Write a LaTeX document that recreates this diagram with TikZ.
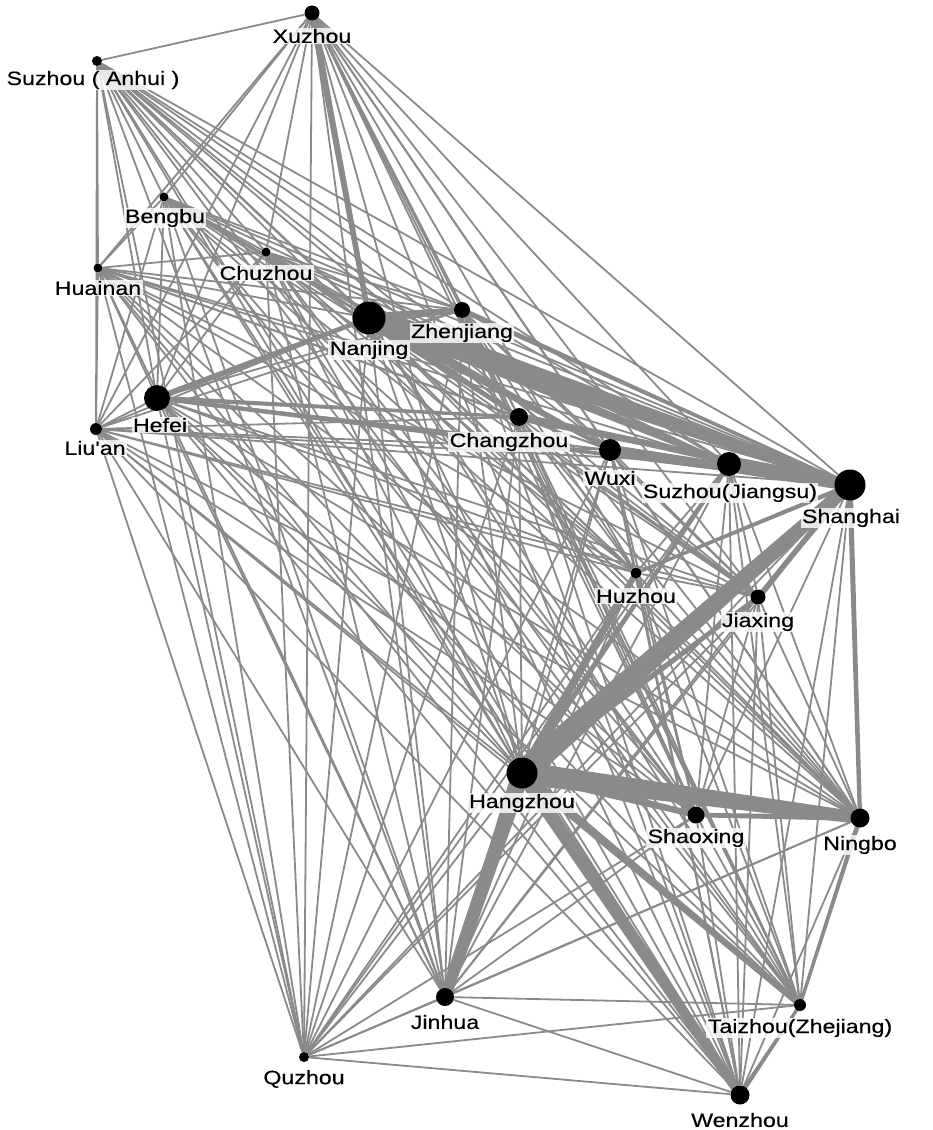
\documentclass[tikz,border=0pt]{standalone}
\usepackage{fontspec}
\newfontfamily\labfont{Liberation Sans}[FakeStretch=1.2,FakeBold=0.4]
\usetikzlibrary{calc}
\pgfdeclarelayer{edgelayer}
\pgfsetlayers{edgelayer,main}
\definecolor{edgegray}{RGB}{138,138,138}
\tikzset{
 city/.style={circle,fill=black,inner sep=0pt,minimum size=#1},
 lbl/.style={fill=white,fill opacity=0.8,text opacity=1,inner sep=1pt,font=\labfont\fontsize{14.5pt}{16pt}\selectfont},
 edge/.style={draw=edgegray,line width=1.35pt},
 band/.style={fill=edgegray}
}
\newcommand\taper[4]{\fill[band] ($(#1)!#3!90:(#2)$) -- ($(#2)!#4!-90:(#1)$) -- ($(#2)!#4!90:(#1)$) -- ($(#1)!#3!-90:(#2)$) -- cycle;}
\def\citylist{xuz,sza,ben,chu,hua,zhe,nan,hef,liu,cha,wux,szj,sha,huz,jia,han,sho,nin,jin,tai,quz,wen}
\begin{document}
\begin{tikzpicture}[x=0.75pt,y=-0.75pt]
\path[use as bounding box] (0,0) rectangle (932,1130);
% cities
\node[city=11.25pt] (xuz) at (312,13) {};
\node[city=7.5pt]   (sza) at (97,61) {};
\node[city=6.75pt]  (ben) at (164,197) {};
\node[city=6.75pt]  (chu) at (266,252) {};
\node[city=6.75pt]  (hua) at (98,268) {};
\node[city=12pt]    (zhe) at (462,310) {};
\node[city=24.75pt] (nan) at (369,318) {};
\node[city=19.5pt]  (hef) at (157,398) {};
\node[city=9pt]     (liu) at (96,429) {};
\node[city=13.5pt]  (cha) at (519,417) {};
\node[city=16.5pt]  (wux) at (610,450) {};
\node[city=18pt]    (szj) at (729,464) {};
\node[city=23.25pt] (sha) at (850,485) {};
\node[city=8.25pt]  (huz) at (636,573) {};
\node[city=11.25pt] (jia) at (758,597) {};
\node[city=23.25pt] (han) at (522,773) {};
\node[city=12.75pt] (sho) at (696,815) {};
\node[city=14.25pt] (nin) at (860,818) {};
\node[city=13.5pt]  (jin) at (445,997) {};
\node[city=9pt]     (tai) at (800,1005) {};
\node[city=7.5pt]   (quz) at (304,1057) {};
\node[city=14.25pt] (wen) at (740,1095) {};
% connectors
\begin{pgfonlayer}{edgelayer}
\foreach \a [count=\i] in \citylist {
  \foreach \b [count=\j] in \citylist {
    \ifnum\j>\i \draw[edge] (\a) -- (\b); \fi
  }
}
\taper{nan}{sha}{9pt}{3pt}
\taper{nan}{szj}{5pt}{2pt}
\taper{nan}{wux}{4pt}{1.5pt}
\taper{nan}{cha}{3pt}{1.5pt}
\taper{nan}{zhe}{3.5pt}{2.2pt}
\taper{szj}{sha}{6pt}{4.5pt}
\taper{wux}{sha}{4pt}{2.2pt}
\taper{cha}{sha}{3pt}{1.5pt}
\taper{zhe}{sha}{2pt}{1pt}
\taper{han}{sha}{9pt}{4.5pt}
\taper{han}{nin}{8.5pt}{4.5pt}
\taper{han}{sho}{3.5pt}{2.2pt}
\taper{han}{jin}{6pt}{4.2pt}
\taper{han}{wen}{5.5pt}{3.2pt}
\taper{han}{tai}{3.6pt}{2pt}
\taper{han}{huz}{3.5pt}{2.2pt}
\taper{han}{jia}{2.5pt}{1.6pt}
\taper{han}{szj}{2.2pt}{1.3pt}
\taper{xuz}{nan}{2.5pt}{2pt}
\taper{hef}{nan}{2.2pt}{1.7pt}
\taper{hef}{sha}{1.7pt}{1.2pt}
\taper{hef}{cha}{1.7pt}{1.2pt}
\taper{sha}{nin}{2pt}{1.6pt}
\taper{sha}{jia}{2.5pt}{1.7pt}
\taper{sha}{huz}{1.7pt}{1.2pt}
\taper{nin}{tai}{1.7pt}{1.2pt}
\taper{wen}{tai}{1.7pt}{1.2pt}
\taper{nin}{sho}{2.2pt}{1.7pt}
\end{pgfonlayer}
% labels
\node[lbl] (xuzL) at (312,36) {Xuzhou};
\node[lbl] (szaL) at (93,80) {Suzhou ( Anhui )};
\node[lbl] (benL) at (165,218) {Bengbu};
\node[lbl] (chuL) at (266,273) {Chuzhou};
\node[lbl] (huaL) at (98,288) {Huainan};
\node[lbl] (zheL) at (462,333) {Zhenjiang};
\node[lbl] (nanL) at (369,350) {Nanjing};
\node[lbl] (hefL) at (160,425) {Hefei};
\node[lbl] (liuL) at (95,448) {Liu'an};
\node[lbl] (chaL) at (509,442) {Changzhou};
\node[lbl] (wuxL) at (610,478) {Wuxi};
\node[lbl] (szjL) at (730,493) {Suzhou(Jiangsu)};
\node[lbl] (shaL) at (851,518) {Shanghai};
\node[lbl] (huzL) at (636,596) {Huzhou};
\node[lbl] (jiaL) at (758,622) {Jiaxing};
\node[lbl] (hanL) at (522,803) {Hangzhou};
\node[lbl] (shoL) at (696,838) {Shaoxing};
\node[lbl] (ninL) at (860,845) {Ningbo};
\node[lbl] (jinL) at (445,1022) {Jinhua};
\node[lbl] (taiL) at (800,1028) {Taizhou(Zhejiang)};
\node[lbl] (quzL) at (304,1079) {Quzhou};
\node[lbl] (wenL) at (740,1120) {Wenzhou};
\end{tikzpicture}
\end{document}
